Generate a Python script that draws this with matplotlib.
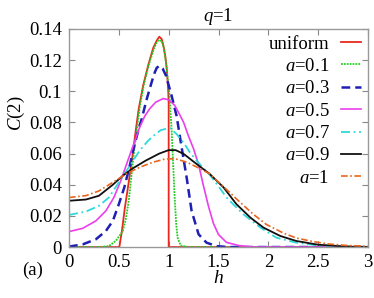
import matplotlib

matplotlib.use("Agg")
import matplotlib.pyplot as plt

plt.rcParams["font.family"] = ["Liberation Serif", "DejaVu Serif"]
plt.rcParams["mathtext.fontset"] = "custom"
plt.rcParams["mathtext.rm"] = "Liberation Serif"
plt.rcParams["mathtext.it"] = "Liberation Serif:italic"

# curves, (h, C(2)) pairs
h_uniform = [0.0, 0.505, 0.53, 0.56, 0.6, 0.64, 0.67, 0.7, 0.745, 0.796, 0.846, 0.88,
             0.906, 0.93, 0.946, 0.965, 0.98, 0.99, 0.996, 1.0, 1.0, 3.0]
c_uniform = [0.0, 0.0, 0.01, 0.025, 0.042, 0.06, 0.075, 0.089, 0.104, 0.117, 0.128,
             0.1325, 0.135, 0.1335, 0.1296, 0.123, 0.115, 0.106, 0.0995, 0.092, 0.0, 0.0]

h_a01 = [0.0, 0.3, 0.4, 0.47, 0.54, 0.57, 0.6, 0.625, 0.65, 0.68, 0.71, 0.75, 0.8, 0.85,
         0.88, 0.9, 0.93, 0.95, 0.97, 0.99, 1.005, 1.015, 1.03, 1.045, 1.06, 1.075, 1.09,
         1.12, 1.2, 3.0]
c_a01 = [0.0, 0.0, 0.0006, 0.004, 0.0103, 0.018, 0.03, 0.045, 0.06, 0.075, 0.09, 0.104,
         0.117, 0.127, 0.1315, 0.133, 0.132, 0.128, 0.12, 0.108, 0.1, 0.09, 0.075, 0.053,
         0.032, 0.015, 0.006, 0.001, 0.0, 0.0]

h_a03 = [0.0, 0.137, 0.27, 0.37, 0.44, 0.5, 0.555, 0.605, 0.655, 0.7, 0.73, 0.78, 0.83,
         0.86, 0.88, 0.906, 0.94, 0.973, 1.03, 1.08, 1.11, 1.13, 1.18, 1.23, 1.3, 1.38,
         1.48, 1.6, 3.0]
c_a03 = [0.0003, 0.0017, 0.005, 0.0103, 0.0168, 0.0275, 0.0383, 0.051, 0.065, 0.076,
         0.0824, 0.095, 0.106, 0.112, 0.115, 0.1163, 0.1145, 0.11, 0.097, 0.084, 0.072,
         0.064, 0.0447, 0.0232, 0.0082, 0.0028, 0.0006, 0.0, 0.0]

h_a05 = [0.0, 0.137, 0.27, 0.37, 0.45, 0.52, 0.59, 0.66, 0.71, 0.76, 0.81, 0.87, 0.946,
         1.0, 1.06, 1.11, 1.15, 1.2, 1.25, 1.3, 1.35, 1.4, 1.45, 1.5, 1.58, 1.7, 1.85, 3.0]
c_a05 = [0.0099, 0.012, 0.0168, 0.0232, 0.0318, 0.0426, 0.0555, 0.068, 0.077, 0.084,
         0.0888, 0.093, 0.0953, 0.0945, 0.091, 0.085, 0.08, 0.071, 0.063, 0.053, 0.039,
         0.026, 0.015, 0.008, 0.003, 0.001, 0.0, 0.0]

h_a07 = [0.0, 0.17, 0.3, 0.4, 0.5, 0.6, 0.71, 0.79, 0.85, 0.92, 1.01, 1.08, 1.16, 1.21,
         1.28, 1.35, 1.41, 1.5, 1.58, 1.67, 1.75, 1.92, 2.08, 2.28, 2.5, 3.0]
c_a07 = [0.0206, 0.0228, 0.0264, 0.0318, 0.0415, 0.0512, 0.062, 0.068, 0.0715, 0.075,
         0.0765, 0.0725, 0.066, 0.061, 0.0555, 0.0505, 0.0465, 0.039, 0.0318, 0.026,
         0.021, 0.0125, 0.006, 0.0028, 0.001, 0.0]

h_a09 = [0.0, 0.17, 0.3, 0.44, 0.54, 0.64, 0.77, 0.906, 1.0, 1.07, 1.15, 1.28, 1.41,
         1.55, 1.68, 1.82, 1.95, 2.12, 2.28, 2.5, 2.79, 3.0]
c_a09 = [0.0297, 0.0305, 0.0329, 0.04, 0.0458, 0.0505, 0.0555, 0.06, 0.0622, 0.0622,
         0.0598, 0.0533, 0.047, 0.0383, 0.0275, 0.0189, 0.0125, 0.0071, 0.0039, 0.0015,
         0.0003, 0.0]

h_a1 = [0.0, 0.17, 0.3, 0.44, 0.57, 0.71, 0.84, 0.97, 1.07, 1.18, 1.31, 1.41, 1.58,
        1.72, 1.85, 1.98, 2.15, 2.28, 2.45, 2.6, 2.79, 3.0]
c_a1 = [0.0318, 0.033, 0.036, 0.0415, 0.0469, 0.0512, 0.0544, 0.0566, 0.0566, 0.0545,
        0.0505, 0.047, 0.037, 0.0285, 0.021, 0.0145, 0.009, 0.0058, 0.0035, 0.002,
        0.001, 0.0005]

labels = ["uniform", "$a$=0.1", "$a$=0.3", "$a$=0.5", "$a$=0.7", "$a$=0.9", "$a$=1"]
x_ticks = [0, 0.5, 1, 1.5, 2, 2.5, 3]
x_ticklabels = ["0", "0.5", "1", "1.5", "2", "2.5", "3"]
y_ticks = [0, 0.02, 0.04, 0.06, 0.08, 0.1, 0.12, 0.14]
y_ticklabels = ["0", "0.02", "0.04", "0.06", "0.08", "0.1", "0.12", "0.14"]

fig = plt.figure(figsize=(3.74, 2.98), dpi=100)
ax = fig.add_axes([0.1845, 0.171, 0.7995, 0.732])

ax.plot(h_uniform, c_uniform, color="#e8281e", lw=1.3, label=labels[0])
ax.plot(h_a01, c_a01, color="#22cc22", lw=1.3, ls=(0, (1, 0.6)), label=labels[1])
ax.plot(h_a03, c_a03, color="#1f1fb4", lw=1.8, ls=(0, (3.5, 2)), label=labels[2])
ax.plot(h_a05, c_a05, color="#ea3fea", lw=1.2, label=labels[3])
ax.plot(h_a07, c_a07, color="#2fd9d9", lw=1.3, ls=(0, (5, 2, 1, 2)), label=labels[4])
ax.plot(h_a09, c_a09, color="#111111", lw=1.3, label=labels[5])
ax.plot(h_a1, c_a1, color="#e8651e", lw=1.2, ls=(0, (4, 1.5, 1, 1.5)), label=labels[6])

ax.set_xlim(0, 3)
ax.set_ylim(0, 0.14)
ax.set_xticks(x_ticks)
ax.set_xticklabels(x_ticklabels)
ax.set_yticks(y_ticks)
ax.set_yticklabels(y_ticklabels)
ax.tick_params(direction="in", top=True, right=True, labelsize=13.5, length=4,
               color="#888888", pad=5)
for sp in ax.spines.values():
    sp.set_color("#999999")
    sp.set_linewidth(1.0)

ax.set_title("$q$=1", fontsize=13.5, pad=6)
fig.text(0.584, 0.067, "$h$", fontsize=14, ha="center", va="center")
fig.text(0.045, 0.62, "$C$(2)", fontsize=13.5, rotation=90, ha="center", va="center")
fig.text(0.088, 0.094, "(a)", fontsize=13.5, ha="center", va="center")

ax.legend(loc="upper right", frameon=False, markerfirst=False, fontsize=13.5,
          handlelength=1.1, handletextpad=0.6, labelspacing=0.28,
          borderaxespad=0.1, borderpad=0.25)

fig.savefig("out.png", dpi=100)
